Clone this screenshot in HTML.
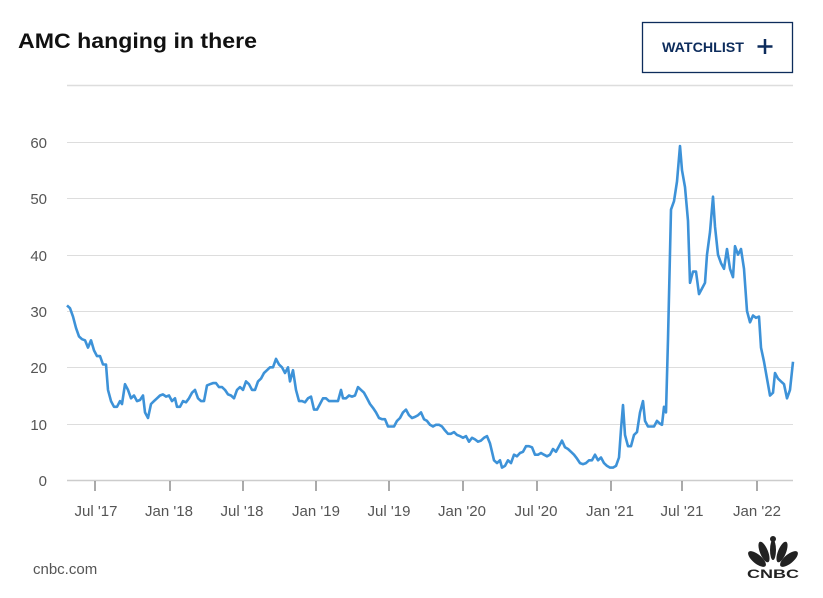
<!DOCTYPE html>
<html><head><meta charset="utf-8"><style>
body{margin:0;background:#fff;width:823px;height:593px;overflow:hidden;font-family:"Liberation Sans",sans-serif}
</style></head><body>
<svg width="823" height="593" xmlns="http://www.w3.org/2000/svg" font-family="Liberation Sans, sans-serif">
<text x="18" y="48" font-size="21" font-weight="bold" fill="#111" textLength="239" lengthAdjust="spacingAndGlyphs">AMC hanging in there</text>
<rect x="642.5" y="22.5" width="150" height="50" fill="none" stroke="#0d2c5c" stroke-width="1.3"/>
<text x="662" y="52" font-size="14" font-weight="bold" fill="#0d2c5c" textLength="82" lengthAdjust="spacingAndGlyphs">WATCHLIST</text>
<path d="M765 39v15M757.5 46.5h15" stroke="#0d2c5c" stroke-width="2.5"/>
<line x1="67" y1="85.5" x2="793" y2="85.5" stroke="#ddd" stroke-width="1.5"/>
<g stroke="#ddd" stroke-width="1">
<line x1="67" y1="142.5" x2="793" y2="142.5"/><line x1="67" y1="198.5" x2="793" y2="198.5"/>
<line x1="67" y1="255.5" x2="793" y2="255.5"/><line x1="67" y1="311.5" x2="793" y2="311.5"/>
<line x1="67" y1="367.5" x2="793" y2="367.5"/><line x1="67" y1="424.5" x2="793" y2="424.5"/>
</g>
<line x1="67" y1="480.5" x2="793" y2="480.5" stroke="#ccc" stroke-width="1.5"/>
<g font-size="15" fill="#555" text-anchor="end">
<text x="47" y="148">60</text><text x="47" y="204">50</text><text x="47" y="261">40</text>
<text x="47" y="317">30</text><text x="47" y="373">20</text><text x="47" y="430">10</text><text x="47" y="486">0</text>
</g>
<g stroke="#555" stroke-width="1">
<line x1="95" y1="481" x2="95" y2="491"/><line x1="170" y1="481" x2="170" y2="491"/><line x1="243" y1="481" x2="243" y2="491"/>
<line x1="316" y1="481" x2="316" y2="491"/><line x1="389" y1="481" x2="389" y2="491"/><line x1="463" y1="481" x2="463" y2="491"/>
<line x1="537" y1="481" x2="537" y2="491"/><line x1="611" y1="481" x2="611" y2="491"/><line x1="682" y1="481" x2="682" y2="491"/>
<line x1="757" y1="481" x2="757" y2="491"/>
</g>
<g font-size="15" fill="#555" text-anchor="middle">
<text x="96" y="516">Jul '17</text><text x="169" y="516">Jan '18</text><text x="242" y="516">Jul '18</text>
<text x="316" y="516">Jan '19</text><text x="389" y="516">Jul '19</text><text x="462" y="516">Jan '20</text>
<text x="536" y="516">Jul '20</text><text x="610" y="516">Jan '21</text><text x="682" y="516">Jul '21</text>
<text x="757" y="516">Jan '22</text>
</g>
<text x="33" y="574" font-size="15" fill="#555">cnbc.com</text>
<g fill="#222">
<ellipse cx="757" cy="559" rx="4.5" ry="11" transform="rotate(-50 757 559)"/>
<ellipse cx="764" cy="552" rx="4" ry="11" transform="rotate(-22 764 552)"/>
<ellipse cx="782" cy="552" rx="4" ry="11" transform="rotate(22 782 552)"/>
<ellipse cx="789" cy="559" rx="4.5" ry="11" transform="rotate(50 789 559)"/>
<ellipse cx="773" cy="550" rx="3" ry="10"/>
<circle cx="773" cy="539" r="3"/>
<text x="773" y="578" font-size="12" font-weight="bold" text-anchor="middle" textLength="52" lengthAdjust="spacingAndGlyphs">CNBC</text>
</g>
<polyline id="ln" fill="none" stroke="#3d92d8" stroke-width="2.6" stroke-linejoin="round" points=""/>
</svg>
<script>
var d=[67,31,70,30.5,73,29,76,27,79,25.5,82,25,85,24.8,88,23.5,91,24.8,94,23,97,22,100,22,103,20.5,106,20.5,108,16,111,14,114,13,117,13,120,14,122,13.5,125,17,128,16,131,14.5,134,15,137,14,140,14.2,143,15,145,12,148,11,151,13.5,154,14,157,14.5,160,15,163,15.2,166,14.8,169,15,172,14,175,14.5,177,13,180,13,183,14,186,13.8,189,14.5,192,15.5,195,16,198,14.5,201,14,204,14,207,16.8,210,17,213,17.2,216,17.2,219,16.5,222,16.5,225,16,228,15.2,231,15,234,14.5,237,16,240,16.5,243,16,246,17.5,249,17,252,16,255,16,258,17.5,261,18,264,19,267,19.5,270,20,273,20,276,21.5,279,20.5,282,20,285,19,288,20,290,17.5,293,19.5,296,16,299,14,302,14,305,13.8,308,14.5,311,14.8,314,12.5,317,12.5,320,13.5,323,14.5,326,14.5,329,14,332,14,335,14,338,14,341,16,343,14.5,346,14.5,349,15,352,14.8,355,15,358,16.5,361,16,364,15.5,367,14.5,370,13.5,373,12.8,376,12,379,11,382,10.8,385,10.8,388,9.5,391,9.5,394,9.5,397,10.5,400,11,403,12,406,12.5,409,11.5,412,11,415,11.2,418,11.5,421,12,424,10.8,427,10.5,430,9.8,433,9.5,436,9.8,439,9.8,442,9.5,445,8.8,448,8.2,451,8.2,454,8.5,457,8,460,7.8,463,7.5,466,7.8,469,6.8,472,7.5,475,7.2,478,6.8,481,7,484,7.5,487,7.8,490,6.5,492,5,494,3.5,497,3,500,3.5,502,2.2,505,2.5,508,3.5,511,3,514,4.5,517,4.2,520,4.8,523,5,526,6,529,6,532,5.8,535,4.5,538,4.5,541,4.8,544,4.5,547,4.2,550,4.5,553,5.5,556,5,559,6,562,7,565,5.8,568,5.5,571,5,574,4.5,577,3.8,580,3,583,2.8,586,3,589,3.5,592,3.5,595,4.5,598,3.5,601,4,604,3,607,2.5,610,2.2,613,2.2,616,2.5,619,4,621,9,623,13.3,625,8,628,6,631,6,634,8,637,8.5,640,12,643,14,645,10.5,648,9.5,651,9.5,654,9.5,657,10.5,660,10,662,9.8,664,13,666,12,668,25,671,48,674,49.5,677,53,680,59.3,682,55,685,52,688,46,690,35,693,37,696,37,699,33,702,34,705,35,707,40,710,44,713,50.3,715,45,718,40,721,38.5,724,37.5,727,41,730,37.5,733,36,735,41.5,738,40,741,41,744,37.5,747,30,750,28,753,29.2,756,28.8,759,29,761,23.5,764,21,767,18,770,15,773,15.5,775,19,778,18,781,17.5,784,17,787,14.5,790,16,793,21];
var p=[];for(var i=0;i<d.length;i+=2)p.push(d[i]+","+(480-d[i+1]*5.633).toFixed(1));
document.getElementById("ln").setAttribute("points",p.join(" "));
</script>
</body></html>
